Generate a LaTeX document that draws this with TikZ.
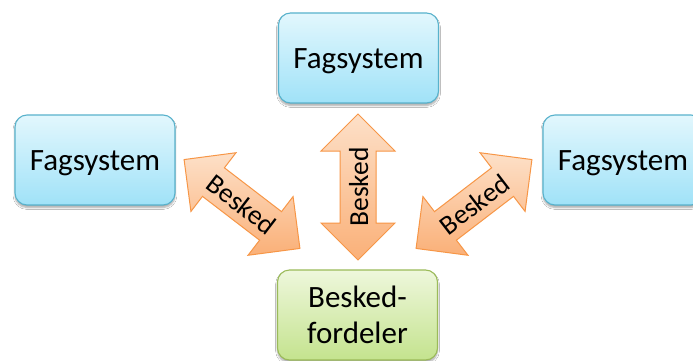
\documentclass[tikz,border=0pt]{standalone}
\usepackage{fontspec}
\setmainfont{Carlito}
\usetikzlibrary{shapes.arrows,shadows.blur}
\definecolor{boxtop}{RGB}{226,247,253}
\definecolor{boxbot}{RGB}{160,226,248}
\definecolor{boxline}{RGB}{88,178,204}
\definecolor{gtop}{RGB}{238,247,220}
\definecolor{gbot}{RGB}{196,227,142}
\definecolor{gline}{RGB}{155,187,89}
\definecolor{otop}{RGB}{253,224,200}
\definecolor{obot}{RGB}{250,176,120}
\definecolor{oline}{RGB}{247,150,70}
\tikzset{
  boxbase/.style={line width=1.1pt, rounded corners=12pt,
    minimum width=160pt, minimum height=90pt,
    font=\fontsize{31}{36}\selectfont, text=black,
    blur shadow={shadow blur steps=6, shadow xshift=0pt, shadow yshift=-2.5pt, shadow opacity=35}},
  sysbox/.style={boxbase, draw=boxline, top color=boxtop, bottom color=boxbot,
    text height=23pt, text depth=2pt},
  fordbox/.style={boxbase, draw=gline, top color=gtop, bottom color=gbot, align=center},
  msgarrow/.style={double arrow, draw=oline, line width=1pt,
    top color=otop, bottom color=obot,
    minimum height=146pt, minimum width=73pt, double arrow head extend=19pt,
    double arrow tip angle=90, text height=20pt, text depth=0pt,
    inner ysep=7.5pt, inner xsep=0pt,
    font=\fontsize{27.5}{30}\selectfont, text=black}
}
\begin{document}
\begin{tikzpicture}[x=1pt,y=-1pt]
\clip (0,0) rectangle (693,361);
\fill[white] (0,0) rectangle (693,361);
\node[sysbox] (top) at (358.5,58) {Fagsystem};
\node[sysbox] (left) at (95,160) {Fagsystem};
\node[sysbox] (right) at (623,160) {Fagsystem};
\node[fordbox] (ford) at (357.5,315) {Besked-\\fordeler};
\node[msgarrow, rotate=90] (av) at (358,187) {Besked};
\node[msgarrow, rotate=-37.5] (al) at (242,204) {Besked};
\node[msgarrow, rotate=37.5] (ar) at (474,204) {Besked};
\end{tikzpicture}
\end{document}
